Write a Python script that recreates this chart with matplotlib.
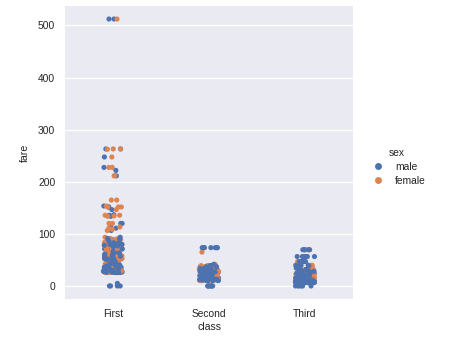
import numpy as np
import pandas as pd
import matplotlib
matplotlib.use("Agg")
import matplotlib.pyplot as plt
from matplotlib.lines import Line2D
import seaborn as sns

classes = ["First", "Second", "Third"]
sexes = ["male", "female"]

first_female = [512.3292, 263, 263, 262.375, 247.5208, 227.525, 227.525, 211.5, 211.3375,
                164.8667, 164.8667, 153.4625, 151.55, 151.55, 151.55, 146.5208, 135.6333,
                135.6333, 134.5, 133.65, 120, 120, 113.275, 110.8833, 108.9, 106.425, 93.5,
                91.0792, 90, 90, 89.1042, 86.5, 83.1583, 82.1708, 80, 79.65, 78.2667, 77.9583,
                77.9583, 76.7292, 75.25, 71.2833, 69.3, 66.6, 63.3583, 57.9792, 57, 56.9292,
                55.9, 55, 53.1, 52.5542, 51.8625, 51.4792, 49.5042, 39.6, 35.5, 31, 30.5,
                27.7208, 26.55, 26.2833, 25.9292, 86.5, 83.1583, 79.2, 57.9792, 30.5,
                89.1042, 83.475, 82.2667, 81.8583, 78.85, 77.2875, 76.2917, 75.2417, 71,
                69.3, 65, 59.4, 57.75, 56.4958, 55.4417, 53.1, 52, 51.8625, 49.5, 42.5,
                39.4, 33.5, 30, 28.7125, 27.75, 26.55, 26, 25.5875]
first_male = [512.3292, 512.3292, 263, 263, 247.5208, 227.525, 221.7792, 211.3375, 153.4625,
              151.55, 151.55, 146.5208, 136.7792, 135.6333, 133.65, 120, 120, 113.275,
              110.8833, 108.9, 106.425, 90, 89.1042, 83.475, 82.1708, 81.8583, 79.2, 79.2,
              78.85, 77.2875, 76.7292, 76.2917, 75.25, 71.2833, 71, 66.6, 61.9792, 61.175,
              59.4, 57.9792, 56.4958, 55.4417, 53.1, 52.5542, 52, 52, 51.8625, 50.4958, 50,
              49.5, 47.1, 42.4, 40.125, 38.5, 35.5, 35, 34.6542, 33.5, 32.3208, 30.6958,
              30.5, 30, 29.7, 28.5, 27.75, 27.7208, 26.55, 26.55, 26.55, 26.2875, 26,
              25.925, 25.5875, 5, 0, 0, 0, 30, 26.55, 35.5, 52, 39.6, 31,
              93.5, 91.0792, 90, 86.5, 83.1583, 82.1708, 81.8583, 80, 79.65, 78.2667,
              77.9583, 76.7292, 75.25, 71.2833, 66.6, 63.3583, 61.3792, 60, 57, 56.9292,
              55.9, 55, 53.1, 52.5542, 52, 51.8625, 50, 49.5042, 47.1, 45.5, 42.4, 39.6,
              38.5, 35.5, 34.0208, 31, 30.5, 30, 29.7, 28.5, 27.7208, 26.55, 26.2875,
              26, 25.9292, 26.55, 26.55, 30.5, 35.5, 52, 0]
second_female = [65, 41.5792, 39, 36.75, 33, 32.5, 30.0708, 30, 27.75, 26.25, 26, 26, 26, 23,
                 23, 21, 21, 19.5, 18.75, 15.75, 14.5, 13.5, 13, 13, 13, 13, 12.65, 12.35,
                 11.5, 10.5, 26, 13, 10.5, 23, 26.25, 21, 13.8583, 15.0458, 24, 29,
                 39, 36.75, 33, 32.5, 30, 27.75, 26, 26, 26, 24, 23, 21, 19.5, 16, 15.75,
                 14.5, 13.5, 13, 13, 13, 12.35, 11.5, 10.5, 10.5, 27.72, 22, 18.75, 14, 13]
second_male = [73.5, 73.5, 73.5, 73.5, 73.5, 39, 36.75, 31.5, 27.7208, 27, 26.25, 26, 26, 26,
               26, 24, 21, 21, 15.0458, 15, 14, 13.5, 13, 13, 13, 13, 13, 13, 12.875, 12.525,
               12.35, 11.5, 10.5, 10.5, 10.5, 10.5, 0, 0, 0, 0, 0, 0, 26, 13, 13, 73.5,
               37.0042, 41.5792, 32.5, 30, 12.275, 15.5792, 13, 10.5, 26,
               39, 36.75, 33.5, 31.5, 30.0708, 29, 27.7208, 27, 26.25, 26, 26, 26, 24,
               23, 21, 21, 19.5, 18.75, 15.75, 15.05, 14.5, 13.8625, 13.5, 13, 13, 13,
               13, 13, 12.65, 12.35, 11.5, 11.5, 10.5, 10.5, 10.5, 10.5, 73.5, 26, 13,
               13, 10.5, 0, 21, 26, 32.5]
third_female = [69.55, 69.55, 46.9, 39.6875, 34.375, 31.3875, 31.275, 29.125, 27.9, 25.4667,
                24.15, 23.45, 22.3583, 21.075, 20.575, 20.2125, 19.2583, 18, 17.8, 16.7, 16.1,
                15.5, 15.2458, 14.4542, 14.4, 13.775, 12.475, 11.1333, 9.8375, 9.5875, 8.6625,
                8.05, 7.925, 7.8792, 7.8542, 7.775, 7.75, 7.7333, 7.7292, 7.25, 7.225, 7.1417,
                6.75, 7.65, 10.4625, 12.2875, 14.1083, 15.7417, 18.75, 22.025, 23.25, 27.9,
                31.3875, 34.375, 7.75, 7.8792, 8.05, 7.925, 14.4542, 16.7,
                46.9, 39.6875, 34.375, 31.275, 29.125, 27.9, 25.4667, 24.15, 23.45, 21.075,
                20.2125, 19.2583, 18, 17.4, 16.1, 15.5, 15.2458, 14.4542, 14.4, 13.4167,
                12.475, 11.1333, 10.5167, 9.5, 8.6625, 8.05, 8.05, 7.925, 7.8792, 7.8542,
                7.775, 7.75, 7.75, 7.7333, 7.25, 7.225, 7.2292, 6.75, 7.8542, 7.75, 15.5,
                24.15, 20.575, 31.3875, 25.4667, 9.35, 12.1833, 13.775, 7.925, 8.05]
third_male = [69.55, 69.55, 69.55, 69.55, 56.4958, 56.4958, 56.4958, 56.4958, 46.9, 46.9,
              46.9, 39.6875, 39.6875, 34.375, 31.3875, 31.275, 31.275, 29.125, 29.125, 27.9,
              25.4667, 24.15, 23.45, 22.025, 21.075, 20.525, 20.2125, 19.9667, 18.7875, 17.8,
              16.1, 15.85, 15.5, 15.2458, 14.5, 14.4583, 14.4542, 13.4167, 12.475, 11.5,
              11.1333, 9.8458, 9.5, 9.35, 9.225, 8.6625, 8.4583, 8.05, 8.05, 8.05, 8.05, 8.05,
              7.925, 7.8958, 7.8958, 7.8958, 7.8542, 7.8542, 7.775, 7.775, 7.75, 7.75, 7.7292,
              7.25, 7.25, 7.25, 7.225, 7.2292, 7.0542, 6.975, 6.95, 6.4958, 6.4375, 6.2375,
              4.0125, 0, 0, 0, 0, 7.125, 7.05, 8.1125, 8.6542, 9, 9.4833, 10.1708, 10.5167,
              12.35, 14, 16.1, 24.15, 7.8958, 8.05, 7.75, 7.225,
              56.4958, 56.4958, 46.9, 39.6875, 39, 34.375, 31.3875, 31.275, 29.125, 27.9,
              27.9, 25.4667, 24.15, 23.45, 22.525, 21.075, 20.575, 20.2125, 19.2583, 18.7875,
              18, 17.8, 16.1, 16.1, 15.5, 15.2458, 15.1, 14.5, 14.4542, 14.4, 13.775, 12.875,
              12.475, 11.2417, 11.1333, 9.8417, 9.5875, 9.5, 9.35, 9.225, 8.85, 8.7125,
              8.6625, 8.6625, 8.5167, 8.4333, 8.05, 8.05, 8.05, 8.05, 8.05, 8.05, 7.925,
              7.925, 7.8958, 7.8958, 7.8958, 7.8958, 7.8542, 7.8542, 7.7958, 7.775, 7.775,
              7.75, 7.75, 7.75, 7.7417, 7.7292, 7.65, 7.5208, 7.4958, 7.25, 7.25, 7.25, 7.25,
              7.2292, 7.225, 7.125, 7.05, 7.05, 6.975, 6.8583, 6.4958, 6.45, 6.2375, 0, 0,
              69.55, 46.9, 39.6875, 31.3875, 29.125, 24.15, 20.525, 16.1, 14.4542, 9.5,
              8.05, 7.8958, 7.75, 7.25, 8.05, 7.925, 7.8542, 7.775, 15.2458, 19.2583]

groups = {
    "First": (first_male, first_female),
    "Second": (second_male, second_female),
    "Third": (third_male, third_female),
}

rows = []
for cls in classes:
    males, females = groups[cls]
    n = max(len(males), len(females))
    for i in range(n):
        if i < len(males):
            rows.append((cls, "male", males[i]))
        if i < len(females):
            rows.append((cls, "female", females[i]))
df = pd.DataFrame(rows, columns=["class", "sex", "fare"])

sns.set_theme(style="darkgrid")
plt.rcParams["font.family"] = ["Liberation Sans", "DejaVu Sans"]

palette = {"male": "#4C72B0", "female": "#DD8452"}

fig = plt.figure(figsize=(4.53, 3.53), dpi=100)
ax = fig.add_axes([65 / 453, 1 - 299.3 / 353, 288 / 453, 293.6 / 353])

np.random.seed(3)
sns.stripplot(data=df, x="class", y="fare", hue="sex", hue_order=sexes, order=classes,
              palette=palette, size=3.7, jitter=True, linewidth=0, legend=False, ax=ax)

ax.set_xlim(-0.5, 2.5)
ax.set_ylim(-25.6, 537.9)
ax.set_yticks([0, 100, 200, 300, 400, 500])
ax.xaxis.grid(False)
ax.yaxis.grid(True, color="white", linewidth=0.9)
ax.tick_params(axis="both", length=0, labelsize=7.4, colors="#262626", pad=7)
ax.set_xlabel("class", fontsize=7.6, color="#262626", labelpad=2)
ax.set_ylabel("fare", fontsize=7.6, color="#262626", labelpad=6)
for s in ax.spines.values():
    s.set_visible(False)

handles = [Line2D([0], [0], marker="o", linestyle="", markersize=5,
                  markerfacecolor=palette[s], markeredgewidth=0) for s in sexes]
leg = fig.legend(handles, sexes, title="sex", loc="center left",
                 bbox_to_anchor=(358 / 453, 1 - 167 / 353), frameon=False,
                 fontsize=7.4, title_fontsize=7.4, handletextpad=0.7, labelspacing=0.35)

fig.savefig("out.png", dpi=100)
